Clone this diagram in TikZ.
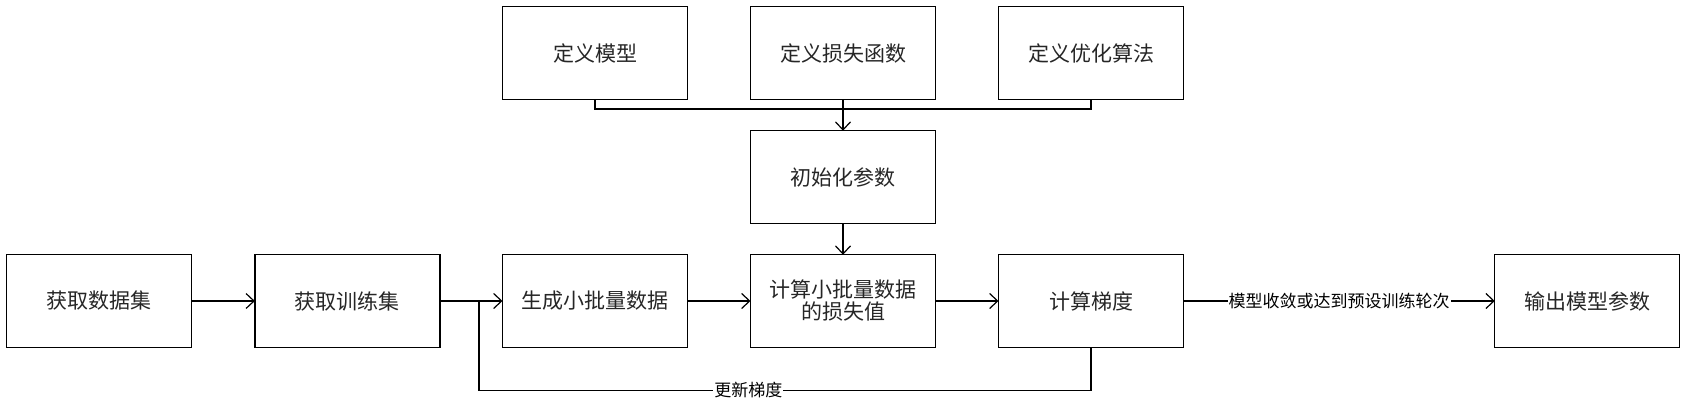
\documentclass[tikz,border=0pt]{standalone}
\usepackage{fontspec}
\setmainfont{Noto Sans CJK SC}
\usetikzlibrary{arrows.meta}
\tikzset{
  box/.style={draw=black, line width=1.2pt, minimum width=185pt, minimum height=92.5pt, inner sep=2pt, outer sep=0pt, align=center, font=\fontsize{21}{25}\selectfont, text=black!85},
  conn/.style={draw=black, line width=1.2pt},
  arr/.style={conn, -{Straight Barb[length=8pt,width=15pt,line width=1.2pt]}},
  elabel/.style={fill=white, inner sep=1pt, font=\fontsize{17}{19}\selectfont}
}
\begin{document}
\begin{tikzpicture}[x=1pt, y=-1pt]
\useasboundingbox (0,0) rectangle (1692,413);
% top row
\node[box] (m1) at (595,53) {定义模型};
\node[box] (m2) at (843,53) {定义损失函数};
\node[box] (m3) at (1091,53) {定义优化算法};
\node[box] (init) at (843,177) {初始化参数};
% bottom row
\node[box] (b1) at (99.3,301) {获取数据集};
\node[box] (b2) at (347.4,301) {获取训练集};
\node[box] (b3) at (595,301) {生成小批量数据};
\node[box] (b4) at (843,301) {计算小批量数据\\[-3pt]的损失值};
\node[box] (b5) at (1091,301) {计算梯度};
\node[box] (b6) at (1587.3,301) {输出模型参数};
\coordinate (j) at (479,301);
% merge
\draw[conn] (m1.south) -- ++(0,9.7) -| (m3.south);
\draw[arr] (m2.south) -- (init.north);
\draw[arr] (init.south) -- (b4.north);
% main flow
\draw[arr] (b1.east) -- (b2.west);
\draw[arr] (b2.east) -- (b3.west);
\draw[arr] (b3.east) -- (b4.west);
\draw[arr] (b4.east) -- (b5.west);
\draw[arr] (b5.east) -- node[elabel] {模型收敛或达到预设训练轮次} (b6.west);
% feedback
\draw[conn] (b5.south) -- ++(0,43) coordinate (fb) -| node[elabel, pos=0.28] {更新梯度} (j);
\end{tikzpicture}
\end{document}
